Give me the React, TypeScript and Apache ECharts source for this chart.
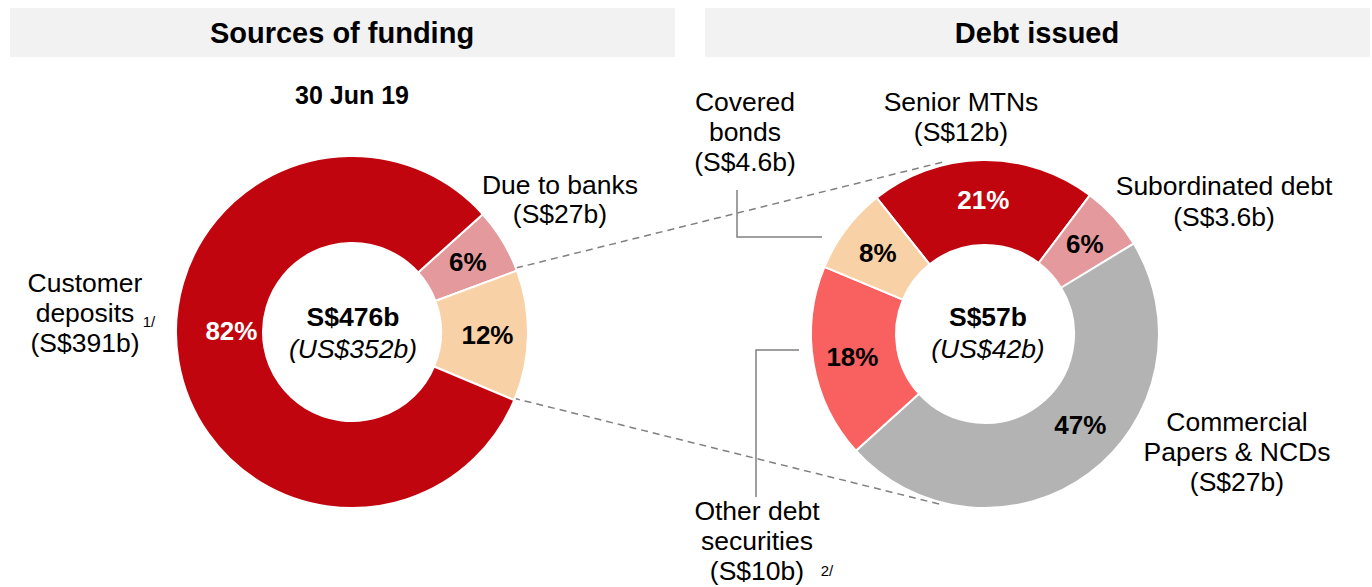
import React, { useEffect, useRef } from "react";
import * as echarts from "echarts";

// ---- Data ----
const fundingNames = ["Due to banks", "Debt issued", "Customer deposits"];
const fundingPct = [6, 12, 82];
const fundingTotal = "S$476b";
const fundingTotalUS = "(US$352b)";
const fundingDate = "30 Jun 19";

const debtNames = ["Senior MTNs", "Subordinated debt", "Commercial Papers & NCDs", "Other debt securities", "Covered bonds"];
const debtPct = [21, 6, 47, 18, 8];
const debtTotal = "S$57b";
const debtTotalUS = "(US$42b)";

const titles = ["Sources of funding", "Debt issued"];

// ---- Styles ----
const FONT = "'Liberation Sans', Arial, Helvetica, sans-serif";
const fundingColors = ["#E49A9C", "#F9D1A7", "#C0050E"];
const fundingLabelColors = ["#000", "#000", "#fff"];
const debtColors = ["#C0050E", "#E49A9C", "#B3B3B3", "#F96060", "#F9D1A7"];
const debtLabelColors = ["#fff", "#000", "#000", "#000", "#000"];
const fundingLabelShift = [[0, 0], [0, 0], [13, -24]];
const debtLabelShift = [[0, 0], [0, 0], [15, -17], [0, 0], [0, 0]];
const OUT = 26.5;

function txt(text: string, x: number, y: number, size: number, opts: any = {}) {
  return {
    type: "text",
    silent: true,
    style: {
      text,
      x,
      y,
      align: opts.align || "center",
      textAlign: opts.align || "center",
      verticalAlign: "middle",
      textVerticalAlign: "middle",
      fontSize: size,
      fontFamily: FONT,
      fontWeight: opts.bold ? "bold" : "normal",
      fontStyle: opts.italic ? "italic" : "normal",
      lineHeight: opts.lineHeight || size * 1.15,
      fill: opts.fill || "#000",
    },
  };
}

export default function App() {
  const ref = useRef<HTMLDivElement>(null);
  useEffect(() => {
    if (!ref.current) return;
    const chart = echarts.init(ref.current, undefined, { renderer: "svg" });
    const pieLabel = {
      show: true,
      position: "inside",
      formatter: (p: any) => p.value + "%",
      fontFamily: FONT,
      fontSize: 26,
      fontWeight: "bold",
    };
    const option: any = {
      animation: false,
      backgroundColor: "#fff",
      series: [
        {
          type: "pie",
          center: [352, 332],
          radius: [89, 176],
          startAngle: 42,
          clockwise: true,
          avoidLabelOverlap: false,
          silent: true,
          labelLine: { show: false },
          label: pieLabel,
          labelLayout: (p: any) => ({ dx: fundingLabelShift[p.dataIndex][0], dy: fundingLabelShift[p.dataIndex][1] }),
          itemStyle: { borderColor: "#fff", borderWidth: 2 },
          data: fundingNames.map((n, i) => ({
            name: n,
            value: fundingPct[i],
            itemStyle: { color: fundingColors[i] },
            label: { color: fundingLabelColors[i] },
          })),
        },
        {
          type: "pie",
          center: [985, 334],
          radius: [89, 174],
          startAngle: 128.5,
          clockwise: true,
          avoidLabelOverlap: false,
          silent: true,
          labelLine: { show: false },
          label: pieLabel,
          labelLayout: (p: any) => ({ dx: debtLabelShift[p.dataIndex][0], dy: debtLabelShift[p.dataIndex][1] }),
          itemStyle: { borderColor: "#fff", borderWidth: 2 },
          data: debtNames.map((n, i) => ({
            name: n,
            value: debtPct[i],
            itemStyle: { color: debtColors[i] },
            label: { color: debtLabelColors[i] },
          })),
        },
      ],
      graphic: [
        { type: "rect", silent: true, shape: { x: 10, y: 8, width: 665, height: 49 }, style: { fill: "#F2F2F2" } },
        { type: "rect", silent: true, shape: { x: 705, y: 8, width: 665, height: 49 }, style: { fill: "#F2F2F2" } },
        txt(titles[0], 342, 33, 29, { bold: true }),
        txt(titles[1], 1037, 33, 29, { bold: true }),
        txt(fundingDate, 352, 95, 25, { bold: true }),
        // center texts
        txt(fundingTotal, 353, 317, 26.5, { bold: true }),
        txt(fundingTotalUS, 353, 349, 26.5, { italic: true }),
        txt(debtTotal, 988, 317, 26.5, { bold: true }),
        txt(debtTotalUS, 988, 349, 26.5, { italic: true }),
        // funding outer labels
        txt("Due to banks\n(S$27b)", 560, 199, OUT, { lineHeight: 29 }),
        txt("Customer\ndeposits\n(S$391b)", 85, 313, OUT, { lineHeight: 30 }),
        txt("1/", 149, 321, 15),
        // debt outer labels
        txt("Covered\nbonds\n(S$4.6b)", 745, 132, OUT, { lineHeight: 30 }),
        txt("Senior MTNs\n(S$12b)", 961, 117, OUT, { lineHeight: 30 }),
        txt("Subordinated debt\n(S$3.6b)", 1224, 201, OUT, { lineHeight: 31 }),
        txt("Commercial\nPapers & NCDs\n(S$27b)", 1237, 452, OUT, { lineHeight: 30 }),
        txt("Other debt\nsecurities\n(S$10b)", 757, 541, OUT, { lineHeight: 30 }),
        txt("2/", 827, 570, 15),
        // connector dashed lines
        { type: "line", silent: true, shape: { x1: 516, y1: 268, x2: 943, y2: 162 }, style: { stroke: "#808080", lineWidth: 1.5, lineDash: [7, 5] } },
        { type: "line", silent: true, shape: { x1: 513, y1: 398, x2: 943, y2: 505 }, style: { stroke: "#808080", lineWidth: 1.5, lineDash: [7, 5] } },
        // leader lines
        { type: "polyline", silent: true, shape: { points: [[737, 190], [737, 237], [822, 237]] }, style: { stroke: "#808080", lineWidth: 1.5, fill: "none" } },
        { type: "polyline", silent: true, shape: { points: [[799, 350], [756, 350], [756, 497]] }, style: { stroke: "#808080", lineWidth: 1.5, fill: "none" } },
      ],
    };
    chart.setOption(option);
    return () => chart.dispose();
  }, []);
  return <div ref={ref} style={{ position: "fixed", left: 0, top: 0, width: 1372, height: 587 }} />;
}
